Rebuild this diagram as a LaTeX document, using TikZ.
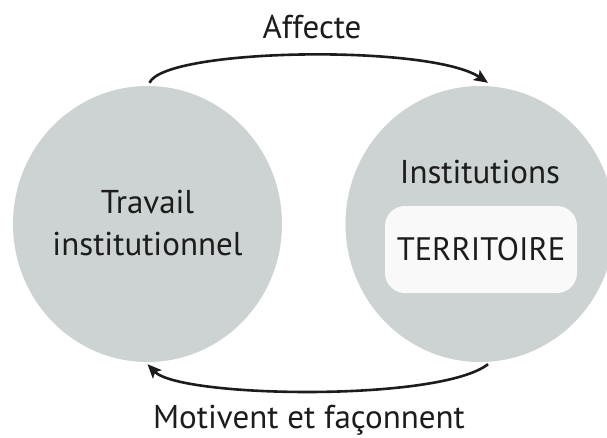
\documentclass[tikz,border=0pt]{standalone}
\usepackage{fontspec}
\setmainfont{PT Sans}
\usetikzlibrary{shapes.geometric,arrows.meta}
\definecolor{circfill}{HTML}{CDD2D2}
\definecolor{boxfill}{HTML}{F9F9F9}
\definecolor{ink}{HTML}{1C1C1C}
\tikzset{
  bubble/.style={ellipse, fill=circfill, minimum width=269pt, minimum height=276pt, inner sep=0pt},
  label/.style={text=ink, font=\fontsize{33}{42}\selectfont, inner sep=0pt},
  terrbox/.style={rounded corners=20pt, fill=boxfill, minimum width=192pt, minimum height=87pt, inner sep=0pt, text=ink, font=\fontsize{32.5}{42}\selectfont},
  conn/.style={draw=ink, line width=2.6pt, -{Stealth[length=14pt,width=12pt,inset=3pt]}}
}
\begin{document}
\begin{tikzpicture}[x=1pt,y=-1pt]
\useasboundingbox (0,0) rectangle (607,437);
\begin{scope}
\clip (0,0) rectangle (607,437);
\node[bubble] (L) at (147.5,224) {};
\node[bubble] (R) at (480,224) {};
\end{scope}
\node[terrbox] (T) at (481,249.5) {TERRITOIRE};
\node[label, anchor=base] (I) at (480,183) {Institutions};
\node[label, anchor=base] (tw1) at (147.5,213) {Travail};
\node[label, anchor=base] (tw2) at (147.5,255) {institutionnel};
\node[label, anchor=base] (aff) at (312,38) {Affecte};
\node[label, anchor=base] (mot) at (309,428) {Motivent et façonnent};
\draw[conn] ([shift={(2,-3)}]L.north) .. controls (165,48) and (430,44) .. ([shift={(8,-3)}]R.north);
\draw[conn] ([shift={(8,2)}]R.south) .. controls (440,402) and (180,398) .. ([shift={(0,2)}]L.south);
\end{tikzpicture}
\end{document}
